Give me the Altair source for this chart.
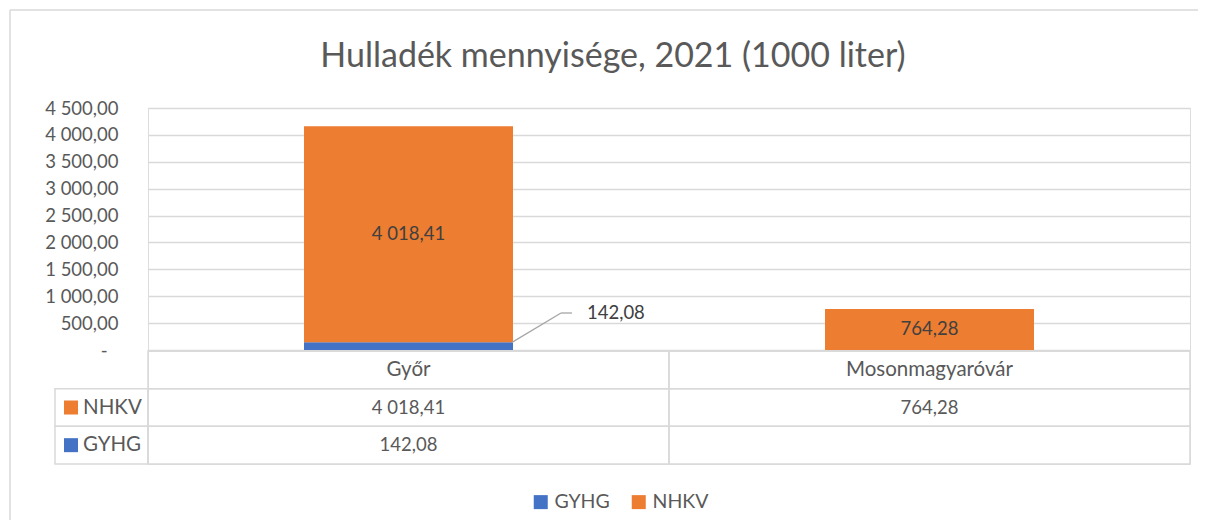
import altair as alt
import pandas as pd

# ---------------- data ----------------
categories = ["Győr", "Mosonmagyaróvár"]
series = ["GYHG", "NHKV"]
gyhg_values = [142.08, None]
nhkv_values = [4018.41, 764.28]
table_rows = ["NHKV", "GYHG"]
y_ticks = [0, 500, 1000, 1500, 2000, 2500, 3000, 3500, 4000, 4500]
title_text = "Hulladék mennyisége, 2021 (1000 liter)"
callout_level = 688  # y level (data units) of the outside label for GYHG

# ---------------- style ----------------
BLUE = "#4472C4"
ORANGE = "#ED7D31"
TEXT = "#595959"
GRID = "#D9D9D9"
FONT = "Lato"
FS_NUM = 18.5
FS_TXT = 20.5

rows = []
for i, c in enumerate(categories):
    for s, vals in zip(series, [gyhg_values, nhkv_values]):
        if vals[i] is not None:
            rows.append({"cat": c, "series": s, "value": vals[i], "order": series.index(s)})
df = pd.DataFrame(rows)

FMT = "replace(replace(format(datum.value, ',.2f'), ',', ' '), '.', ',')"

x_enc = alt.X("cat:N", sort=categories,
              scale=alt.Scale(domain=categories, paddingInner=0, paddingOuter=0),
              axis=None)
color_enc = alt.Color(
    "series:N",
    scale=alt.Scale(domain=series, range=[BLUE, ORANGE]),
    legend=alt.Legend(title=None, orient="none", direction="horizontal",
                      legendX=383, legendY=384, symbolType="square",
                      symbolSize=196, symbolStrokeWidth=0, labelFont=FONT,
                      labelFontSize=19.5, labelColor=TEXT, labelOffset=4,
                      columnPadding=19, padding=0),
)

y_scale = alt.Scale(domain=[0, 4500], nice=False, zero=True)
y_axis = alt.Axis(values=y_ticks, title=None, domain=False, ticks=False,
                  labelExpr="datum.value == 0 ? '-' : " + FMT,
                  labelOverlap=False, labelBound=False,
                  labelFont=FONT, labelFontSize=FS_NUM, labelColor=TEXT,
                  labelPadding={"condition": {"test": "datum.value == 0", "value": 41}, "value": 30},
                  grid=True, gridColor=GRID, gridWidth=1.5)

base = alt.Chart(df)

bars = base.mark_bar(size=209).encode(
    x=x_enc,
    y=alt.Y("value:Q", stack="zero", scale=y_scale, axis=y_axis),
    color=color_enc,
    order=alt.Order("order:Q"),
)

labels = base.transform_stack(
    stack="value", groupby=["cat"], as_=["v0", "v1"], sort=[alt.SortField("order")]
).transform_filter("datum.series == 'NHKV'").transform_calculate(
    mid="(datum.v0 + datum.v1) / 2", label=FMT
).mark_text(font=FONT, fontSize=FS_NUM, color="#404040").encode(
    x=x_enc, y=alt.Y("mid:Q", scale=y_scale, axis=y_axis), text="label:N"
)

gy = base.transform_filter("datum.series == 'GYHG'")
leader1 = gy.mark_rule(color="#A6A6A6", strokeWidth=1.3).encode(
    x=alt.value(364), x2=alt.value(413),
    y=alt.Y("value:Q", scale=y_scale, axis=y_axis), y2=alt.datum(callout_level)
)
leader2 = gy.mark_rule(color="#A6A6A6", strokeWidth=1.3).encode(
    x=alt.value(413), x2=alt.value(424),
    y=alt.YDatum(callout_level, scale=y_scale, axis=y_axis)
)
callout = gy.transform_calculate(label=FMT).mark_text(
    align="left", baseline="middle", font=FONT, fontSize=FS_NUM, color="#404040"
).encode(x=alt.value(439), y=alt.YDatum(callout_level, scale=y_scale, axis=y_axis),
         text="label:N")

one = alt.Chart(pd.DataFrame({"title": [title_text]}))
frame_left = one.mark_rule(color=GRID, strokeWidth=1.5).encode(
    x=alt.value(-138), y=alt.value(-98), y2=alt.value(412))
frame_top = one.mark_rule(color=GRID, strokeWidth=1.5).encode(
    x=alt.value(-138), x2=alt.value(1050), y=alt.value(-98))
title_mark = one.mark_text(font=FONT, fontSize=34, color=TEXT, baseline="middle").encode(
    x=alt.value(465), y=alt.value(-51), text="title:N")

top_chart = alt.layer(frame_left, frame_top, title_mark, bars, labels, leader1, leader2,
                      callout).properties(width=1042, height=242)

# ---------------- data table ----------------
cell_rows = [{"cat": c, "r0": r, "r1": r + 1} for r in range(3) for c in categories]
cells_df = pd.DataFrame(cell_rows)
legend_cells = pd.DataFrame([{"series": s, "r0": i + 1, "r1": i + 2, "mid": i + 1.5}
                             for i, s in enumerate(table_rows)])
text_rows = [{"cat": c, "mid": 0.5, "label": c} for c in categories]
for i, s in enumerate(table_rows):
    vals = nhkv_values if s == "NHKV" else gyhg_values
    for c, v in zip(categories, vals):
        if v is not None:
            text_rows.append({"cat": c, "mid": i + 1.5, "value": v})
text_df = pd.DataFrame(text_rows)

y_tab = alt.Scale(domain=[0, 3], reverse=True, nice=False, zero=False)

cells = alt.Chart(cells_df).mark_rect(fillOpacity=0, stroke=GRID, strokeWidth=1.5).encode(
    x=x_enc, y=alt.Y("r0:Q", scale=y_tab, axis=None), y2="r1:Q")
lcells = alt.Chart(legend_cells).mark_rect(fillOpacity=0, stroke=GRID, strokeWidth=1.5).encode(
    x=alt.value(-93), x2=alt.value(0), y=alt.Y("r0:Q", scale=y_tab, axis=None), y2="r1:Q")
squares = alt.Chart(legend_cells).mark_point(shape="square", filled=True, size=196, opacity=1).encode(
    x=alt.value(-77), y=alt.Y("mid:Q", scale=y_tab, axis=None), color=color_enc)
names = alt.Chart(legend_cells).mark_text(align="left", baseline="middle", font=FONT,
                                          fontSize=FS_TXT, color=TEXT).encode(
    x=alt.value(-65), y=alt.Y("mid:Q", scale=y_tab, axis=None), text="series:N")
tvals = alt.Chart(text_df).transform_calculate(
    txt="isValid(datum.label) ? datum.label : " + FMT,
    fs="isValid(datum.label) ? 20.5 : 18.5",
).mark_text(baseline="middle", font=FONT, color=TEXT).encode(
    x=x_enc, y=alt.Y("mid:Q", scale=y_tab, axis=None), text="txt:N",
    size=alt.Size("fs:Q", scale=None, legend=None))

table = alt.layer(cells, lcells, squares, names, tvals).properties(width=1042, height=113)

chart = alt.vconcat(top_chart, table, spacing=1, bounds="flush").properties(
    padding={"left": 0, "top": 0, "right": 0, "bottom": 0},
).configure_view(stroke=None).configure(background="white")

chart.save("out.html", embed_options={"renderer": "svg", "actions": False})
